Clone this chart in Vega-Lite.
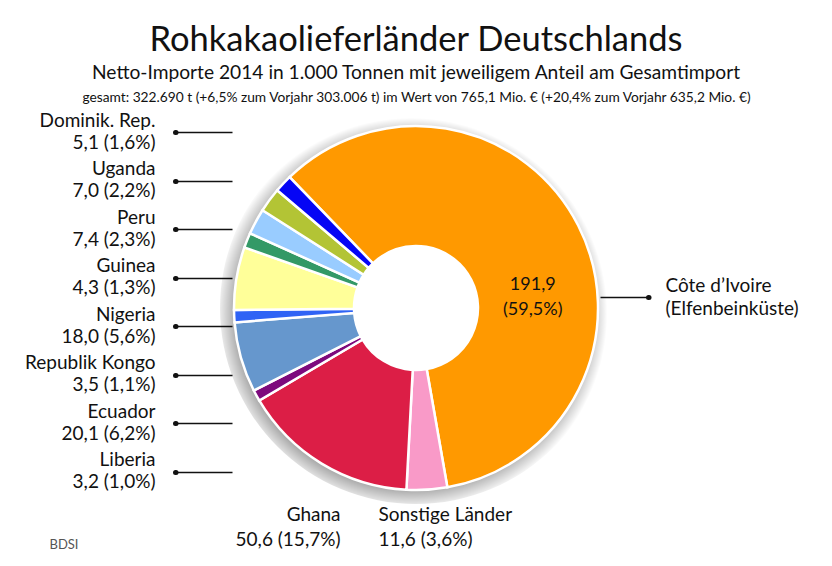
{
  "$schema": "https://vega.github.io/schema/vega-lite/v6.json",
  "width": 368,
  "height": 364,
  "autosize": "none",
  "padding": {"left": 232, "top": 126, "right": 232, "bottom": 76},
  "background": "white",
  "config": {"view": {"stroke": null}, "font": "Lato"},
  "title": {
    "text": "Rohkakaolieferländer Deutschlands",
    "subtitle": "Netto-Importe 2014 in 1.000 Tonnen mit jeweiligem Anteil am Gesamtimport",
    "anchor": "middle",
    "frame": "group",
    "font": "Lato",
    "fontSize": 34.5,
    "fontWeight": "normal",
    "color": "#111111",
    "subtitleFont": "Lato",
    "subtitleFontSize": 19.2,
    "subtitleColor": "#111111",
    "subtitlePadding": 5,
    "offset": 6
  },
  "data": {
    "values": [
      {"land": "Côte d’Ivoire", "menge": 191.9, "anteil": 59.5, "label": "Côte d’Ivoire|(Elfenbeinküste)", "innen": "191,9|(59,5%)"},
      {"land": "Sonstige Länder", "menge": 11.6, "anteil": 3.6, "label": "Sonstige Länder|11,6 (3,6%)", "innen": ""},
      {"land": "Ghana", "menge": 50.6, "anteil": 15.7, "label": "Ghana|50,6 (15,7%)", "innen": ""},
      {"land": "Liberia", "menge": 3.2, "anteil": 1.0, "label": "Liberia|3,2 (1,0%)", "innen": ""},
      {"land": "Ecuador", "menge": 20.1, "anteil": 6.2, "label": "Ecuador|20,1 (6,2%)", "innen": ""},
      {"land": "Republik Kongo", "menge": 3.5, "anteil": 1.1, "label": "Republik Kongo|3,5 (1,1%)", "innen": ""},
      {"land": "Nigeria", "menge": 18.0, "anteil": 5.6, "label": "Nigeria|18,0 (5,6%)", "innen": ""},
      {"land": "Guinea", "menge": 4.3, "anteil": 1.3, "label": "Guinea|4,3 (1,3%)", "innen": ""},
      {"land": "Peru", "menge": 7.4, "anteil": 2.3, "label": "Peru|7,4 (2,3%)", "innen": ""},
      {"land": "Uganda", "menge": 7.0, "anteil": 2.2, "label": "Uganda|7,0 (2,2%)", "innen": ""},
      {"land": "Dominik. Rep.", "menge": 5.1, "anteil": 1.6, "label": "Dominik. Rep.|5,1 (1,6%)", "innen": ""}
    ]
  },
  "layer": [
    {
      "data": {"values": [{}]},
      "mark": {
        "type": "arc", "theta": 0, "theta2": 6.2832, "outerRadius": 196, "innerRadius": 176,
        "fill": {"gradient": "radial", "x1": 0.488, "y1": 0.515, "x2": 0.488, "y2": 0.515, "r1": 0.45, "r2": 0.5,
          "stops": [{"offset": 0, "color": "rgba(0,0,0,0.32)"}, {"offset": 1, "color": "rgba(0,0,0,0)"}]}
      },
      "encoding": {}
    },
    {
      "transform": [{"window": [{"op": "row_number", "as": "nr"}]}],
      "mark": {"type": "arc", "outerRadius": 182, "innerRadius": 62, "stroke": "white", "strokeWidth": 2.5},
      "encoding": {
        "theta": {"field": "menge", "type": "quantitative", "stack": true, "scale": {"range": [-0.768, 5.5152]}},
        "order": {"field": "nr", "type": "quantitative", "sort": "ascending"},
        "color": {
          "field": "land", "type": "nominal", "legend": null,
          "scale": {
            "domain": ["Côte d’Ivoire", "Sonstige Länder", "Ghana", "Liberia", "Ecuador", "Republik Kongo", "Nigeria", "Guinea", "Peru", "Uganda", "Dominik. Rep."],
            "range": ["#FF9900", "#F99AC8", "#DC1E46", "#7D0A7D", "#6697CD", "#2F63F5", "#FFFF99", "#339966", "#99CCFF", "#B3C435", "#0505F5"]
          }
        }
      }
    },
    {
      "transform": [{"window": [{"op": "row_number", "as": "nr"}]}],
      "mark": {"type": "text", "radius": 119, "thetaOffset": 0.276, "fontSize": 18, "lineBreak": "|", "lineHeight": 25, "color": "#111111", "align": "center", "baseline": "middle"},
      "encoding": {
        "theta": {"field": "menge", "type": "quantitative", "stack": true, "scale": {"range": [-0.768, 5.5152]}},
        "order": {"field": "nr", "type": "quantitative", "sort": "ascending"},
        "text": {"field": "innen"}
      }
    },
    {
      "transform": [{"filter": {"field": "land", "oneOf": ["Dominik. Rep.", "Uganda", "Peru", "Guinea", "Nigeria", "Republik Kongo", "Ecuador", "Liberia"]}}],
      "mark": {"type": "point", "opacity": 0},
      "encoding": {
        "y": {
          "field": "label", "type": "nominal",
          "scale": {"type": "point", "padding": 0.25, "align": 0.25,
            "domain": ["Dominik. Rep.|5,1 (1,6%)", "Uganda|7,0 (2,2%)", "Peru|7,4 (2,3%)", "Guinea|4,3 (1,3%)", "Nigeria|18,0 (5,6%)", "Republik Kongo|3,5 (1,1%)", "Ecuador|20,1 (6,2%)", "Liberia|3,2 (1,0%)"]},
          "axis": {"orient": "left", "offset": 0, "title": null, "domain": false, "grid": false, "ticks": true, "tickSize": 57, "tickWidth": 1.4, "tickColor": "#111111",
            "labelPadding": 20, "labelOffset": -12, "labelExpr": "split(datum.label, '|')", "labelFont": "Lato", "labelFontSize": 19, "labelColor": "#111111",
            "labelLineHeight": 22, "labelAlign": "right", "labelBaseline": "middle", "labelLimit": 400, "labelOverlap": false, "labelBound": false}
        }
      }
    },
    {
      "transform": [{"filter": {"field": "land", "oneOf": ["Dominik. Rep.", "Uganda", "Peru", "Guinea", "Nigeria", "Republik Kongo", "Ecuador", "Liberia"]}}],
      "mark": {"type": "point", "opacity": 0},
      "encoding": {
        "y": {
          "field": "label", "type": "nominal",
          "scale": {"type": "point", "padding": 0.25, "align": 0.25,
            "domain": ["Dominik. Rep.|5,1 (1,6%)", "Uganda|7,0 (2,2%)", "Peru|7,4 (2,3%)", "Guinea|4,3 (1,3%)", "Nigeria|18,0 (5,6%)", "Republik Kongo|3,5 (1,1%)", "Ecuador|20,1 (6,2%)", "Liberia|3,2 (1,0%)"]},
          "axis": {"orient": "left", "offset": 56.5, "title": null, "domain": false, "grid": false, "labels": false, "ticks": true, "tickSize": 0.5, "tickWidth": 5, "tickCap": "round", "tickColor": "#111111"}
        }
      }
    },
    {
      "transform": [{"filter": {"field": "land", "equal": "Côte d’Ivoire"}}],
      "mark": {"type": "point", "opacity": 0},
      "encoding": {
        "y": {
          "field": "label", "type": "nominal",
          "scale": {"type": "point", "padding": 0.5, "align": 0.47},
          "axis": {"orient": "right", "offset": 0, "title": null, "domain": false, "grid": false, "ticks": true, "tickSize": 48, "tickWidth": 1.4, "tickColor": "#111111",
            "labelPadding": 17, "labelOffset": -12, "labelExpr": "split(datum.label, '|')", "labelFont": "Lato", "labelFontSize": 19, "labelColor": "#111111",
            "labelLineHeight": 23, "labelAlign": "left", "labelBaseline": "middle", "labelLimit": 400, "labelOverlap": false, "labelBound": false}
        }
      }
    },
    {
      "transform": [{"filter": {"field": "land", "equal": "Côte d’Ivoire"}}],
      "mark": {"type": "point", "opacity": 0},
      "encoding": {
        "y": {
          "field": "label", "type": "nominal",
          "scale": {"type": "point", "padding": 0.5, "align": 0.47},
          "axis": {"orient": "right", "offset": 48, "title": null, "domain": false, "grid": false, "labels": false, "ticks": true, "tickSize": 0.5, "tickWidth": 5, "tickCap": "round", "tickColor": "#111111"}
        }
      }
    },
    {
      "transform": [{"filter": {"field": "land", "oneOf": ["Ghana", "Sonstige Länder"]}}],
      "mark": {"type": "point", "opacity": 0},
      "encoding": {
        "x": {
          "field": "label", "type": "nominal",
          "scale": {"type": "point", "padding": 1, "align": 0.2677, "domain": ["Ghana|50,6 (15,7%)", "Sonstige Länder|11,6 (3,6%)"]},
          "axis": {"orient": "bottom", "domain": false, "grid": false, "ticks": false, "labelAngle": 0,
            "labelPadding": 15, "labelExpr": "split(datum.label, '|')", "labelFont": "Lato", "labelFontSize": 19, "labelColor": "#111111",
            "labelLineHeight": 25, "labelBaseline": "top", "labelLimit": 400, "labelOverlap": false, "labelBound": false, "labelFlush": false,
            "labelAlign": {"condition": {"test": "indexof(datum.label, 'Ghana') === 0", "value": "right"}, "value": "left"},
            "labelOffset": {"condition": {"test": "indexof(datum.label, 'Ghana') === 0", "value": 42.35}, "value": -42.35},
            "title": "BDSI", "titleFont": "Lato", "titleFontSize": 13, "titleFontWeight": "normal", "titleColor": "#555555",
            "titleAngle": 0, "titleAlign": "left", "titleBaseline": "alphabetic", "titleX": -183, "titleY": 58}
        }
      }
    },
    {
      "transform": [{"filter": {"field": "land", "equal": "Côte d’Ivoire"}}],
      "mark": {"type": "point", "opacity": 0},
      "encoding": {
        "x": {
          "field": "land", "type": "nominal",
          "axis": {"orient": "top", "domain": false, "grid": false, "ticks": false, "labels": false,
            "title": "gesamt: 322.690 t (+6,5% zum Vorjahr 303.006 t) im Wert von 765,1 Mio. € (+20,4% zum Vorjahr 635,2 Mio. €)",
            "titleFont": "Lato", "titleFontSize": 13.75, "titleFontWeight": "normal", "titleColor": "#111111", "titlePadding": 22}
        }
      }
    }
  ],
  "resolve": {"scale": {"x": "independent", "y": "independent"}}
}
